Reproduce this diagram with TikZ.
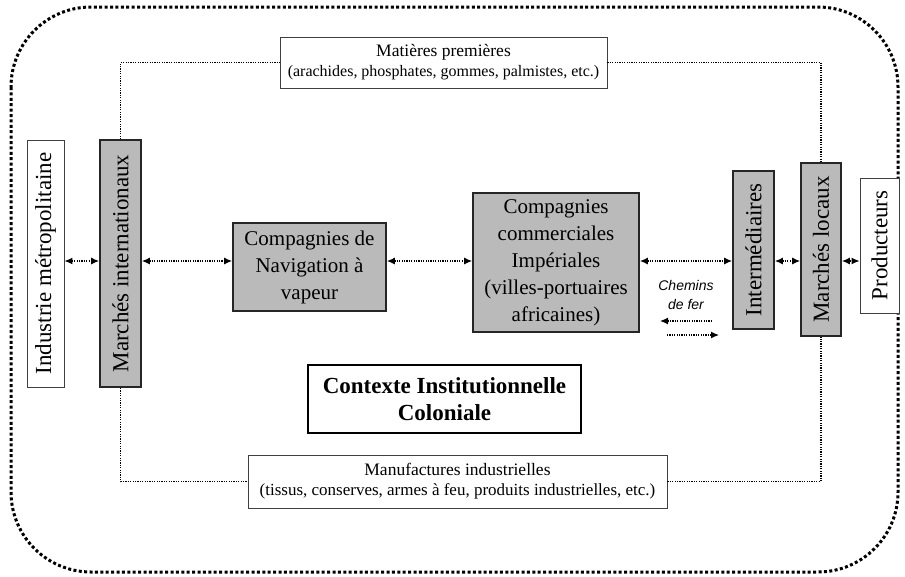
\documentclass[tikz,border=0pt]{standalone}
\usepackage{fontspec}
\setmainfont{Liberation Serif}
\newfontfamily\chemfont{Liberation Sans}
\usetikzlibrary{arrows.meta}
\tikzset{>={Latex[length=8pt,width=7pt]}}
\tikzset{
  acteur/.style={draw=black!85, line width=1.8pt, fill=black!27, inner sep=0pt},
  bout/.style={draw=black!75, line width=0.9pt, fill=white, inner sep=0pt},
  flux/.style={line width=1.2pt, dash pattern=on 1.2pt off 1.2pt},
  cadre/.style={line width=3pt, dash pattern=on 3pt off 2.4pt, rounded corners=80pt}
}
\newcommand{\grand}{\fontsize{21}{27}\selectfont}
\newcommand{\vertical}{\fontsize{23}{26}\selectfont}

\begin{document}
\begin{tikzpicture}[x=1pt, y=-1pt]
\useasboundingbox (0,0) rectangle (905,576);
% cadre institutionnel
\draw[cadre] (11,7) rectangle (898,572);
% acteurs
\node[bout, minimum width=37pt, minimum height=247pt, font=\vertical] (indus) at (45.5,263.5)
  {\rotatebox{90}{Industrie métropolitaine}};
\node[acteur, minimum width=41pt, minimum height=247pt, font=\vertical] (mint) at (120.5,263.5)
  {\rotatebox{90}{Marchés internationaux}};
\node[acteur, minimum width=153pt, minimum height=88pt, align=center, font=\grand] (nav) at (309.5,267)
  {Compagnies de\\Navigation à\\vapeur};
\node[acteur, minimum width=166pt, minimum height=139pt, align=center, font=\grand] (comm) at (556,262.5)
  {Compagnies\\commerciales\\Impériales\\(villes-portuaires\\africaines)};
\node[acteur, minimum width=41pt, minimum height=158pt, font=\vertical] (inter) at (753.5,250)
  {\rotatebox{90}{Intermédiaires}};
\node[acteur, minimum width=40pt, minimum height=173pt, font=\vertical] (mloc) at (821,249.5)
  {\rotatebox{90}{Marchés locaux}};
\node[bout, minimum width=39pt, minimum height=135pt, font=\vertical] (prod) at (879.5,245.5)
  {\rotatebox{90}{Producteurs}};
% flux de marchandises
\node[bout, minimum width=327pt, minimum height=51pt, align=center, font=\fontsize{17.5}{20}\selectfont] (mat) at (443.5,62.5)
  {Matières premières\\{\fontsize{16}{19}\selectfont (arachides, phosphates, gommes, palmistes, etc.)}};
\node[bout, minimum width=419pt, minimum height=53pt, align=center, font=\fontsize{17.5}{20}\selectfont] (manu) at (457.5,481.5)
  {Manufactures industrielles\\{\fontsize{17}{19}\selectfont (tissus, conserves, armes à feu, produits industrielles, etc.)}};
\node[draw, line width=1.8pt, minimum width=273pt, minimum height=68pt, align=center, inner sep=0pt,
  font=\bfseries\fontsize{23}{27}\selectfont] (ctx) at (444.5,399)
  {Contexte Institutionnelle\\Coloniale};
\node[align=center, inner sep=0pt, font=\chemfont\itshape\fontsize{14}{19}\selectfont] (chem) at (686,295)
  {Chemins\\de fer};
\coordinate (axe) at (0,261);
\coordinate (ga) at (712,321);
\coordinate (gb) at (660,321);
\coordinate (da) at (667,335);
\coordinate (db) at (719,335);

\draw[flux, <->] (indus.east |- axe) -- (mint.west |- axe);
\draw[flux, <->] (mint.east |- axe) -- (nav.west |- axe);
\draw[flux, <->] (nav.east |- axe) -- (comm.west |- axe);
\draw[flux, <->] (comm.east |- axe) -- (inter.west |- axe);
\draw[flux, <->] (inter.east |- axe) -- (mloc.west |- axe);
\draw[flux, <->] (mloc.east |- axe) -- (prod.west |- axe);
\draw[flux, ->] (ga) -- (gb);
\draw[flux, ->] (da) -- (db);
\draw[flux] (mint.north) |- (mat.west);
\draw[flux] (mat.east) -| (mloc.north);
\draw[flux] (mint.south) |- (manu.west);
\draw[flux] (manu.east) -| (mloc.south);
\end{tikzpicture}
\end{document}
